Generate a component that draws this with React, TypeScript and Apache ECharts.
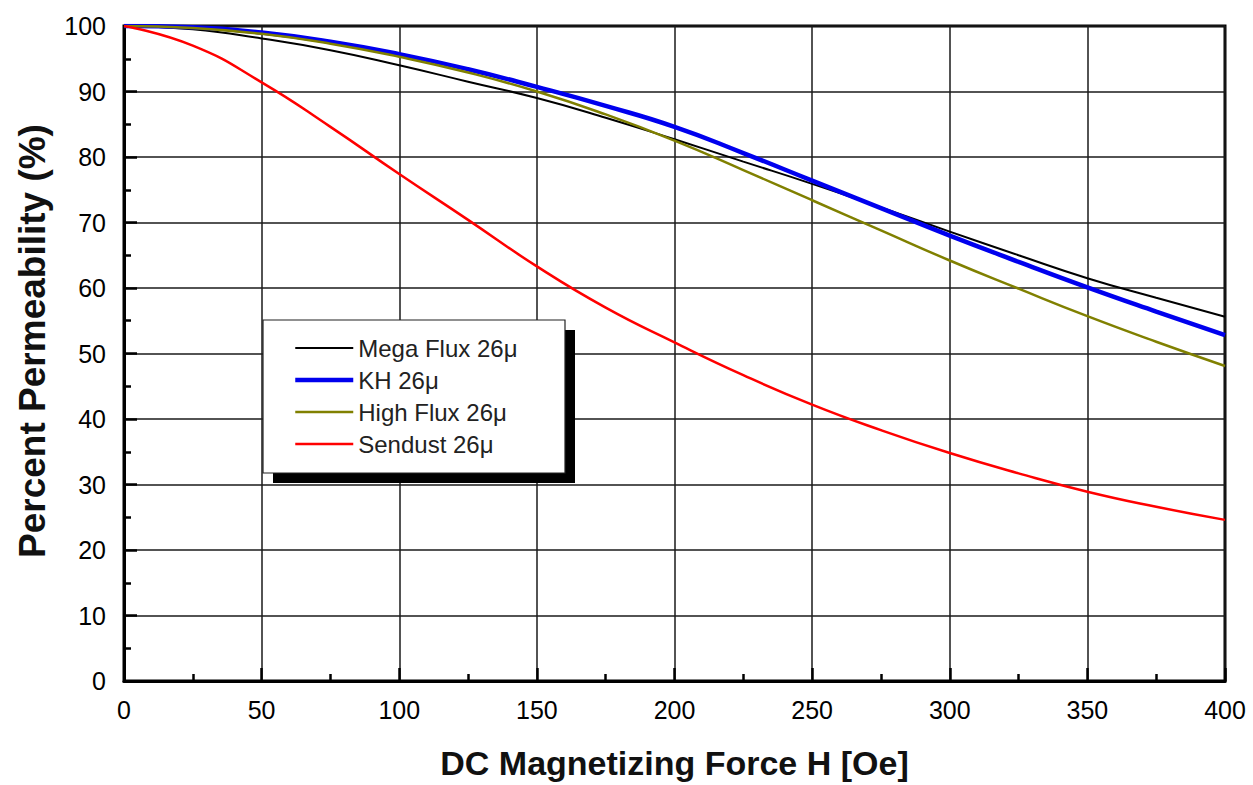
import React, { useEffect, useRef } from "react";
import * as echarts from "echarts";

const hValues = [0, 25, 50, 75, 100, 125, 150, 175, 200, 225, 250, 275, 300, 325, 350, 375, 400];
const megaFlux = [100, 99.5, 98.1, 96.3, 94.0, 91.5, 89.0, 86.0, 82.7, 79.3, 75.9, 72.3, 68.6, 65.0, 61.5, 58.5, 55.6];
const kh = [100, 99.8, 99.0, 97.6, 95.7, 93.4, 90.7, 87.8, 84.6, 80.6, 76.4, 72.2, 68.0, 64.0, 60.1, 56.4, 52.8];
const highFlux = [100, 99.7, 98.8, 97.3, 95.3, 92.9, 90.0, 86.5, 82.5, 78.0, 73.4, 68.8, 64.2, 59.9, 55.7, 51.8, 48.1];
const sendust = [100, 97.0, 91.4, 84.6, 77.4, 70.4, 63.3, 57.0, 51.7, 46.7, 42.2, 38.3, 34.8, 31.7, 28.9, 26.6, 24.6];

const seriesNames = ["Mega Flux 26μ", "KH 26μ", "High Flux 26μ", "Sendust 26μ"];
const xAxisTitle = "DC Magnetizing Force H [Oe]";
const yAxisTitle = "Percent Permeability (%)";

const FONT = "Arial, 'Liberation Sans', sans-serif";

export default function App() {
  const ref = useRef<HTMLDivElement>(null);
  useEffect(() => {
    if (!ref.current) return;
    const chart = echarts.init(ref.current, null, { renderer: "svg" });
    const mk = (vals: number[]) => hValues.map((h, i) => [h, vals[i]]);
    const styles = [
      { color: "#000000", width: 2 },
      { color: "#0000ee", width: 4.5 },
      { color: "#808000", width: 2.5 },
      { color: "#ff0000", width: 2.5 },
    ];
    const datas = [megaFlux, kh, highFlux, sendust];
    chart.setOption({
      animation: false,
      backgroundColor: "#ffffff",
      grid: {
        left: 124,
        right: 28,
        top: 26,
        bottom: 99,
        show: true,
        borderColor: "#000",
        borderWidth: 3,
        backgroundColor: "transparent",
      },
      xAxis: {
        type: "value",
        min: 0,
        max: 400,
        interval: 50,
        name: xAxisTitle,
        nameLocation: "middle",
        nameGap: 65,
        nameTextStyle: { fontFamily: FONT, fontWeight: "bold", fontSize: 34, color: "#111" },
        axisLine: { show: true, lineStyle: { color: "#000", width: 3 } },
        axisTick: { show: true, inside: true, length: 13, lineStyle: { color: "#000", width: 2.5 } },
        minorTick: { show: true, splitNumber: 2, length: 7, lineStyle: { color: "#000", width: 2.5 } },
        axisLabel: { fontFamily: FONT, fontSize: 25, color: "#000", margin: 16 },
        splitLine: { show: true, lineStyle: { color: "#1a1a1a", width: 1.5 } },
      },
      yAxis: {
        type: "value",
        min: 0,
        max: 100,
        interval: 10,
        axisLine: { show: true, lineStyle: { color: "#000", width: 3 } },
        axisTick: { show: true, inside: true, length: 13, lineStyle: { color: "#000", width: 2.5 } },
        minorTick: { show: true, splitNumber: 2, length: 7, lineStyle: { color: "#000", width: 2.5 } },
        axisLabel: { fontFamily: FONT, fontSize: 25, color: "#000", margin: 18 },
        splitLine: { show: true, lineStyle: { color: "#1a1a1a", width: 1.5 } },
      },
      legend: {
        show: true,
        orient: "vertical",
        left: 263,
        top: 319,
        padding: [17, 10, 10, 30],
        itemWidth: 58,
        itemHeight: 14,
        itemGap: 8,
        z: 10,
        data: seriesNames.map((name, i) => ({
          name,
          lineStyle: { color: styles[i].color, width: styles[i].width },
        })),
        itemStyle: { opacity: 0 },
        textStyle: { fontFamily: FONT, fontSize: 24, color: "#222" },
      },
      graphic: [
        {
          type: "rect",
          z: 5,
          shape: { x: 273, y: 330, width: 302, height: 153 },
          style: { fill: "#000" },
        },
        {
          type: "rect",
          z: 6,
          shape: { x: 263, y: 320, width: 302, height: 153 },
          style: { fill: "#fff", stroke: "#222", lineWidth: 1.2 },
        },
        {
          type: "text",
          z: 6,
          x: 32,
          y: 341,
          rotation: Math.PI / 2,
          style: {
            text: yAxisTitle,
            font: `bold 37px ${FONT}`,
            fill: "#111",
            textAlign: "center",
            textVerticalAlign: "middle",
          },
        },
      ],
      series: seriesNames.map((name, i) => ({
        name,
        type: "line",
        data: mk(datas[i]),
        smooth: true,
        showSymbol: false,
        symbol: "none",
        lineStyle: { color: styles[i].color, width: styles[i].width },
        itemStyle: { color: styles[i].color },
        z: 2,
      })),
    });
    return () => chart.dispose();
  }, []);
  return <div ref={ref} style={{ width: 1253, height: 785, position: "absolute", left: 0, top: 0 }} />;
}
